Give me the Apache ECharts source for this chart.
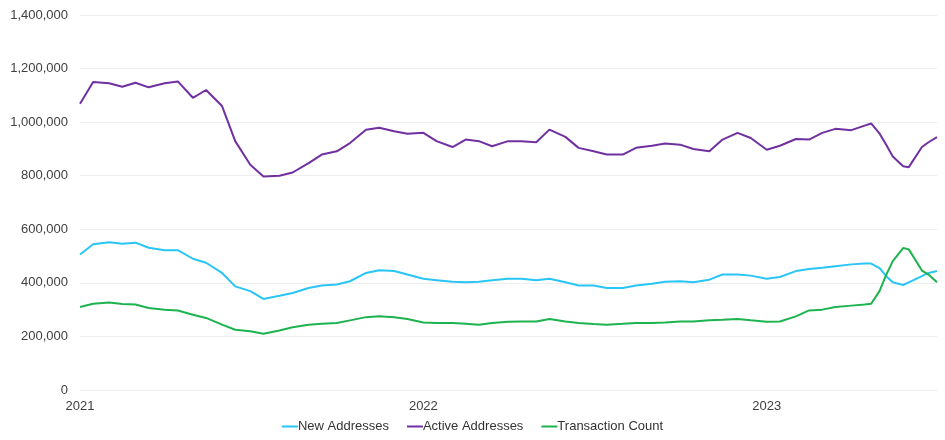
<!DOCTYPE html>
<html>
<head>
<meta charset="utf-8">
<script src="https://cdn.jsdelivr.net/npm/echarts@6/dist/echarts.min.js"></script>
<style>
  html, body { margin: 0; padding: 0; background: #fff; }
  #chart_content { width: 945px; height: 440px; }
</style>
</head>
<body>
<div id="chart_content"></div>
<script>
// dates of the readings (semi-monthly, a few extra points around the 2023 spike)
const dates = [
    '2021-01-01', '2021-01-15', '2021-02-01', '2021-02-15', '2021-03-01', '2021-03-15',
    '2021-04-01', '2021-04-15', '2021-05-01', '2021-05-15', '2021-06-01', '2021-06-15',
    '2021-07-01', '2021-07-15', '2021-08-01', '2021-08-15', '2021-09-01', '2021-09-15',
    '2021-10-01', '2021-10-15', '2021-11-01', '2021-11-15', '2021-12-01', '2021-12-15',
    '2022-01-01', '2022-01-15', '2022-02-01', '2022-02-15', '2022-03-01', '2022-03-15',
    '2022-04-01', '2022-04-15', '2022-05-01', '2022-05-15', '2022-06-01', '2022-06-15',
    '2022-07-01', '2022-07-15', '2022-08-01', '2022-08-15', '2022-09-01', '2022-09-15',
    '2022-10-01', '2022-10-15', '2022-11-01', '2022-11-15', '2022-12-01', '2022-12-15',
    '2023-01-01', '2023-01-15', '2023-02-01', '2023-02-15', '2023-03-01', '2023-03-15',
    '2023-04-01', '2023-04-15', '2023-04-22', '2023-05-01', '2023-05-08', '2023-05-15',
    '2023-05-26', '2023-06-01', '2023-06-15', '2023-06-22', '2023-07-01'
];

// values in thousands
const newAddresses = [
    506, 544, 552, 546, 550, 531, 522, 522, 490, 475, 437, 387,
    369, 340, 352, 362, 381, 390, 394, 406, 437, 447, 444, 431,
    415, 410, 404, 402, 404, 410, 415, 415, 410, 415, 402, 390,
    390, 381, 381, 390, 397, 404, 406, 402, 412, 431, 431, 427,
    415, 422, 444, 452, 456, 462, 469, 472, 472, 455, 425, 402,
    392, 402, 425, 437, 444
];
const activeAddresses = [
    1069, 1150, 1145, 1132, 1147, 1130, 1145, 1152, 1091, 1120, 1060, 929,
    841, 797, 800, 812, 847, 879, 891, 922, 972, 979, 966, 957,
    960, 929, 907, 935, 929, 910, 929, 929, 925, 972, 945, 904,
    891, 879, 879, 904, 912, 920, 916, 900, 891, 935, 960, 941,
    897, 912, 937, 935, 960, 975, 970, 987, 995, 957, 916, 872,
    835, 832, 907, 925, 944
];
const transactionCount = [
    310, 322, 327, 321, 319, 306, 300, 297, 281, 269, 244, 225,
    219, 210, 222, 234, 244, 247, 250, 260, 272, 275, 272, 265,
    252, 250, 250, 247, 244, 250, 255, 256, 256, 265, 256, 250,
    246, 244, 247, 250, 250, 252, 256, 256, 260, 262, 265, 260,
    255, 256, 275, 297, 300, 310, 315, 319, 322, 370, 430, 481,
    530, 525, 446, 431, 402
];

const yearTicks = ['2021', '2022', '2023'];

const DAY = 86400000;
const start = Date.UTC(2021, 0, 1);
function dayIndex(s) {
    const p = s.split('-').map(Number);
    return (Date.UTC(p[0], p[1] - 1, p[2]) - start) / DAY;
}
function toPoints(vals) {
    return vals.map(function (v, i) { return [dayIndex(dates[i]), v * 1000]; });
}

let chart = echarts.init(document.getElementById('chart_content'));
const font = 'Liberation Sans, Arial, sans-serif';

chart.setOption({
    animation: false,
    textStyle: { fontFamily: font },
    grid: { left: 80, right: 8, top: 15, bottom: 50 },
    legend: {
        bottom: 2,
        left: 'center',
        icon: 'rect',
        itemWidth: 16,
        itemHeight: 2,
        itemGap: 18,
        textStyle: { color: '#333', fontSize: 13, fontFamily: font, padding: [0, 0, 0, -5] },
        data: ['New Addresses', 'Active Addresses', 'Transaction Count']
    },
    xAxis: {
        type: 'value',
        min: 0,
        max: dayIndex('2023-07-01'),
        interval: 365,
        axisLine: { show: false },
        axisTick: { show: false },
        splitLine: { show: false },
        axisLabel: {
            color: '#404040',
            fontSize: 13,
            margin: 10,
            showMaxLabel: false,
            formatter: function (v) {
                const k = Math.round(v / 365);
                return yearTicks[k] || '';
            }
        }
    },
    yAxis: {
        type: 'value',
        min: 0,
        max: 1400000,
        interval: 200000,
        axisLine: { show: false },
        axisTick: { show: false },
        splitLine: { lineStyle: { color: '#eeeeee', width: 1 } },
        axisLabel: {
            color: '#404040',
            fontSize: 13,
            margin: 12,
            formatter: function (v) { return v.toLocaleString('en-US'); }
        }
    },
    series: [
        {
            name: 'New Addresses',
            type: 'line',
            showSymbol: false,
            itemStyle: { color: '#29c5f6' },
            lineStyle: { width: 2, color: '#29c5f6' },
            data: toPoints(newAddresses)
        },
        {
            name: 'Active Addresses',
            type: 'line',
            showSymbol: false,
            itemStyle: { color: '#7030a0' },
            lineStyle: { width: 2, color: '#7030a0' },
            data: toPoints(activeAddresses)
        },
        {
            name: 'Transaction Count',
            type: 'line',
            showSymbol: false,
            itemStyle: { color: '#1db34f' },
            lineStyle: { width: 2, color: '#1db34f' },
            data: toPoints(transactionCount)
        }
    ]
});
</script>
</body>
</html>
